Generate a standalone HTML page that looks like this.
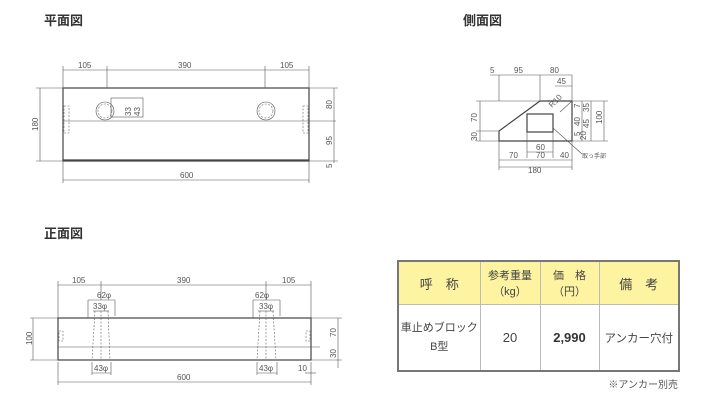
<!DOCTYPE html>
<html><head><meta charset="utf-8"><style>
html,body{margin:0;padding:0;background:#fff;width:702px;height:400px;overflow:hidden}
svg{position:absolute;left:0;top:0}
text{font-family:"Liberation Sans","Noto Sans CJK JP",sans-serif;fill:#444}
.t{font-size:13px;font-weight:bold;fill:#333}
.d{font-size:8px;fill:#555}
.ln{stroke:#555;stroke-width:0.6;fill:none}
.bk{stroke:#444;stroke-width:1.2;fill:none}
.ds{stroke:#666;stroke-width:0.6;fill:none;stroke-dasharray:2,1.5}
table{position:absolute;left:397px;top:260px;width:281px;height:112px;border-collapse:collapse;table-layout:fixed;font-family:"Liberation Sans","Noto Sans CJK JP",sans-serif;color:#444}
td{border:1px solid #bbb;text-align:center;font-size:12px;padding:0;white-space:nowrap;overflow:hidden}
table{border:2px solid #777}
.h td{background:#fdf3a0;height:42px}
.note{position:absolute;left:560px;top:376px;width:118px;text-align:right;font-size:10px;color:#555;font-family:"Liberation Sans","Noto Sans CJK JP",sans-serif}
</style></head><body>
<svg width="702" height="400" viewBox="0 0 702 400">
<text class="t" x="44" y="25">平面図</text>
<text class="t" x="463" y="25">側面図</text>
<text class="t" x="44" y="238">正面図</text>

<rect class="bk" x="63" y="88" width="246" height="73"/>
<line class="ln" x1="63" y1="121" x2="336" y2="121"/>
<line class="bk" x1="63" y1="160" x2="309" y2="160"/>
<line class="ln" x1="63" y1="70" x2="309" y2="70"/>
<line class="ln" x1="63" y1="66" x2="63" y2="88"/><line class="ln" x1="107" y1="66" x2="107" y2="88"/>
<line class="ln" x1="265" y1="66" x2="265" y2="88"/><line class="ln" x1="309" y1="66" x2="309" y2="88"/>
<text class="d" x="78" y="68">105</text><text class="d" x="178" y="68">390</text><text class="d" x="280" y="68">105</text>
<line class="ln" x1="40" y1="88" x2="40" y2="161"/><line class="ln" x1="36" y1="88" x2="63" y2="88"/><line class="ln" x1="36" y1="161" x2="63" y2="161"/>
<text class="d" transform="translate(38,131) rotate(-90)">180</text>
<line class="ln" x1="334" y1="88" x2="334" y2="163"/><line class="ln" x1="309" y1="88" x2="338" y2="88"/><line class="ln" x1="309" y1="161" x2="338" y2="161"/>
<text class="d" transform="translate(332,109) rotate(-90)">80</text>
<text class="d" transform="translate(332,145) rotate(-90)">95</text>
<text class="d" transform="translate(332,168) rotate(-90)">5</text>
<line class="ln" x1="63" y1="180" x2="309" y2="180"/><line class="ln" x1="63" y1="161" x2="63" y2="183"/><line class="ln" x1="309" y1="161" x2="309" y2="183"/>
<text class="d" x="180" y="178">600</text>
<circle class="ln" cx="105" cy="111" r="9"/><circle class="ds" cx="105" cy="111" r="7"/>
<circle class="ln" cx="266" cy="111" r="9"/><circle class="ds" cx="266" cy="111" r="7"/>
<rect class="ln" x="111" y="98" width="32" height="19"/>
<text class="d" transform="translate(131,116) rotate(-90)">33</text>
<text class="d" transform="translate(140,116) rotate(-90)">43</text>
<rect class="ds" x="64" y="106" width="5" height="27"/><rect class="ds" x="303" y="106" width="5" height="27"/>

<path class="bk" d="M499 141 L499 131 L540 101 L572 101 L572 141 Z"/>
<line class="ln" x1="572" y1="101" x2="560" y2="112"/>
<rect class="bk" x="527" y="114" width="26" height="18"/>
<line class="ln" x1="499" y1="75" x2="499" y2="101"/><line class="ln" x1="540" y1="75" x2="540" y2="101"/><line class="ln" x1="572" y1="75" x2="572" y2="101"/>
<line class="ln" x1="490" y1="75" x2="572" y2="75"/>
<text class="d" x="490" y="73">5</text><text class="d" x="514" y="73">95</text><text class="d" x="550" y="73">80</text>
<line class="ln" x1="555" y1="86" x2="572" y2="86"/><text class="d" x="557" y="84">45</text>
<line class="ln" x1="476" y1="101" x2="540" y2="101"/><line class="ln" x1="476" y1="131" x2="499" y2="131"/><line class="ln" x1="476" y1="141" x2="499" y2="141"/>
<line class="ln" x1="480" y1="101" x2="480" y2="141"/>
<text class="d" transform="translate(477,122) rotate(-90)">70</text><text class="d" transform="translate(477,141) rotate(-90)">30</text>
<line class="ln" x1="572" y1="141" x2="608" y2="141"/><line class="ln" x1="572" y1="101" x2="608" y2="101"/>
<line class="ln" x1="604" y1="101" x2="604" y2="141"/>
<text class="d" transform="translate(602,124) rotate(-90)">100</text>
<line class="ln" x1="582" y1="101" x2="582" y2="141"/><line class="ln" x1="591" y1="101" x2="591" y2="141"/>
<text class="d" transform="translate(580,108) rotate(-90)">7</text>
<text class="d" transform="translate(589,112) rotate(-90)">35</text>
<text class="d" transform="translate(580,126) rotate(-90)">40</text>
<text class="d" transform="translate(589,128) rotate(-90)">45</text>
<text class="d" transform="translate(580,136) rotate(-90)">5</text>
<text class="d" transform="translate(586,140) rotate(-90)">20</text>
<text class="d" transform="translate(552,108) rotate(-45)">R10</text>
<line class="ln" x1="553" y1="128" x2="582" y2="154"/>
<text class="d" x="582" y="158" style="font-size:6px">取っ手部</text>
<line class="ln" x1="527" y1="132" x2="527" y2="158"/><line class="ln" x1="553" y1="132" x2="553" y2="158"/>
<line class="ln" x1="527" y1="152" x2="553" y2="152"/><text class="d" x="536" y="150">60</text>
<line class="ln" x1="499" y1="141" x2="499" y2="170"/><line class="ln" x1="572" y1="141" x2="572" y2="170"/>
<line class="ln" x1="499" y1="160" x2="572" y2="160"/>
<text class="d" x="509" y="158">70</text><text class="d" x="536" y="158">70</text><text class="d" x="560" y="158">40</text>
<line class="ln" x1="499" y1="167" x2="572" y2="167"/><text class="d" x="528" y="173">180</text>

<rect class="bk" x="58" y="318" width="253" height="42"/>
<line class="ln" x1="58" y1="347" x2="320" y2="347"/>
<line class="ln" x1="58" y1="285" x2="311" y2="285"/>
<line class="ln" x1="58" y1="281" x2="58" y2="318"/><line class="ln" x1="101" y1="281" x2="101" y2="300"/>
<line class="ln" x1="266" y1="281" x2="266" y2="300"/><line class="ln" x1="311" y1="281" x2="311" y2="318"/>
<text class="d" x="72" y="283">105</text><text class="d" x="177" y="283">390</text><text class="d" x="282" y="283">105</text>
<line class="ln" x1="88" y1="300" x2="115" y2="300"/><text class="d" x="97" y="298">62φ</text>
<line class="ln" x1="88" y1="300" x2="88" y2="318"/><line class="ln" x1="115" y1="300" x2="115" y2="316"/>
<line class="ln" x1="93" y1="311" x2="109" y2="311"/><text class="d" x="93" y="309">33φ</text>
<path class="ds" d="M95 311 L92 360 M108 311 L110 360 M101 311 L101 360"/>
<line class="ln" x1="253" y1="300" x2="280" y2="300"/><text class="d" x="255" y="298">62φ</text>
<line class="ln" x1="253" y1="300" x2="253" y2="318"/><line class="ln" x1="280" y1="300" x2="280" y2="316"/>
<line class="ln" x1="258" y1="311" x2="274" y2="311"/><text class="d" x="259" y="309">33φ</text>
<path class="ds" d="M260 311 L257 360 M273 311 L276 360 M266 311 L266 360"/>
<line class="ln" x1="92" y1="373" x2="111" y2="373"/><text class="d" x="94" y="371">43φ</text>
<line class="ln" x1="92" y1="362" x2="92" y2="375"/><line class="ln" x1="111" y1="362" x2="111" y2="375"/>
<line class="ln" x1="257" y1="373" x2="277" y2="373"/><text class="d" x="259" y="371">43φ</text>
<line class="ln" x1="257" y1="362" x2="257" y2="375"/><line class="ln" x1="277" y1="362" x2="277" y2="375"/>
<text class="d" x="298" y="371">10</text><line class="ln" x1="305" y1="373" x2="316" y2="373"/>
<line class="ln" x1="58" y1="382" x2="311" y2="382"/><line class="ln" x1="58" y1="362" x2="58" y2="385"/><line class="ln" x1="311" y1="362" x2="311" y2="385"/>
<text class="d" x="177" y="380">600</text>
<line class="ln" x1="33" y1="318" x2="33" y2="360"/><line class="ln" x1="30" y1="318" x2="58" y2="318"/><line class="ln" x1="30" y1="360" x2="58" y2="360"/>
<text class="d" transform="translate(32,345) rotate(-90)">100</text>
<line class="ln" x1="311" y1="318" x2="342" y2="318"/><line class="ln" x1="311" y1="360" x2="342" y2="360"/>
<line class="ln" x1="338" y1="318" x2="338" y2="368"/>
<text class="d" transform="translate(336,337) rotate(-90)">70</text>
<text class="d" transform="translate(336,358) rotate(-90)">30</text>
<rect class="ds" x="59" y="331" width="4" height="10"/><rect class="ds" x="306" y="331" width="4" height="10"/>
</svg>
<table>
<colgroup><col style="width:82px"><col style="width:60px"><col style="width:59px"><col style="width:80px"></colgroup>
<tr class="h"><td style="font-size:13px">呼　称</td><td style="font-size:11px">参考重量<br>（kg）</td><td style="font-size:11px">価　格<br>（円）</td><td style="font-size:13px">備　考</td></tr>
<tr><td style="font-size:11px;line-height:19px">車止めブロック<br>B型</td><td style="font-size:13px">20</td><td style="font-size:13px;font-weight:bold;color:#333">2,990</td><td style="font-size:11.5px">アンカー穴付</td></tr>
</table>
<div class="note">※アンカー別売</div>
</body></html>
